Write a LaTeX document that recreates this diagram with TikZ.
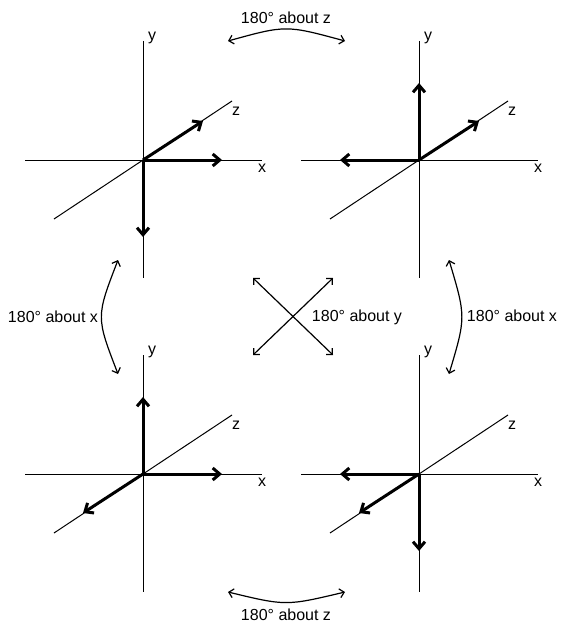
\documentclass[tikz,border=0pt]{standalone}
\usepackage{fontspec}
\setmainfont{Liberation Sans}
\usepackage{tikz}
\usetikzlibrary{arrows.meta}
\tikzset{
  axis/.style={line width=1pt},
  vec/.style={line width=3pt, -{Straight Barb[length=7pt,width=12pt]}},
  rot/.style={line width=1.2pt, {Straight Barb[length=4.5pt,width=9pt]}-{Straight Barb[length=4.5pt,width=9pt]}},
  lbl/.style={font=\fontsize{16}{19}\selectfont, inner sep=0pt}
}

\begin{document}
\begin{tikzpicture}[x=1pt, y=-1pt]
\useasboundingbox (0,0) rectangle (560,623);
% the four frames: name/origin/sign of x,y,z
\foreach \n/\ox/\oy/\sx/\sy/\sz in {tl/143/160/1/-1/1, tr/419/160/-1/1/1, bl/143/474/1/1/-1, br/419/474/-1/-1/-1}{
  \begin{scope}[shift={(\ox,\oy)}]
    \coordinate (o\n) at (0,0);
    \draw[axis] (-118,0) -- (119,0);
    \draw[axis] (0,-119) -- (0,118);
    \draw[axis] (-89,59) -- (89,-59);
    \node[lbl] (x\n) at (119,8) {x};
    \node[lbl] (y\n) at (9,-122) {y};
    \node[lbl] (z\n) at (93,-49) {z};
    \draw[vec] (o\n) -- ({79*(\sx)},0);
    \draw[vec] (o\n) -- (0,{-77*(\sy)});
    \draw[vec] (o\n) -- ({60*(\sz)},{-39*(\sz)});
  \end{scope}
}
% rotations
\coordinate (zt1) at (228,41);
\coordinate (zt2) at (345,41);
\draw[rot] (zt1) .. controls (286,25) .. (zt2);
\node[lbl] (rzt) at (286,18) {180° about z};
\coordinate (zb1) at (228,592);
\coordinate (zb2) at (345,592);
\draw[rot] (zb1) .. controls (286,606) .. (zb2);
\node[lbl] (rzb) at (286,615) {180° about z};
\coordinate (xl1) at (118,260);
\coordinate (xl2) at (118,374);
\draw[rot] (xl1) .. controls (96,317) .. (xl2);
\node[lbl] (rxl) at (53,317) {180° about x};
\coordinate (xr1) at (449,260);
\coordinate (xr2) at (449,374);
\draw[rot] (xr1) .. controls (466,317) .. (xr2);
\node[lbl] (rxr) at (512,316) {180° about x};
\coordinate (ynw) at (253,278);
\coordinate (yne) at (333,278);
\coordinate (ysw) at (253,355);
\coordinate (yse) at (333,355);
\draw[rot] (ynw) -- (yse);
\draw[rot] (yne) -- (ysw);
\node[lbl] (ry) at (357,317) {180° about y};
\end{tikzpicture}
\end{document}
